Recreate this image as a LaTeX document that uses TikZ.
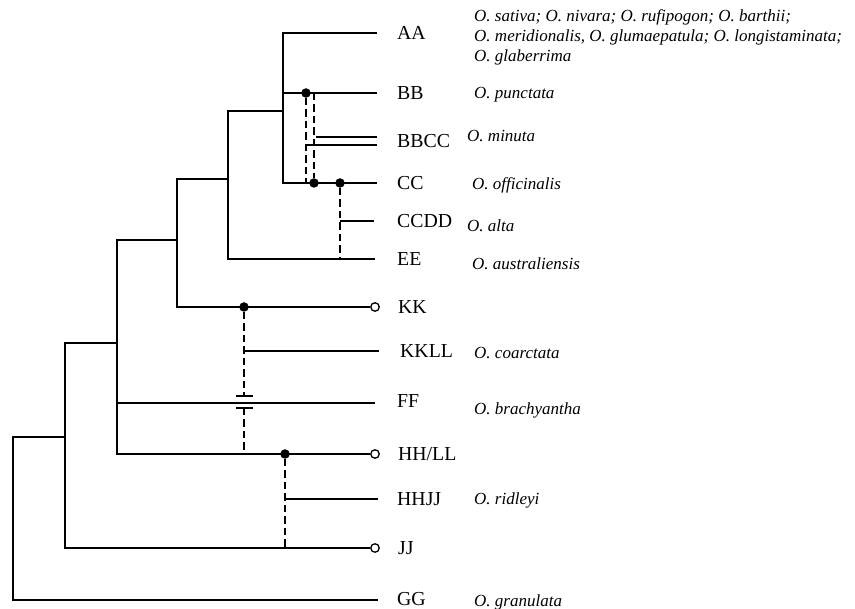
\documentclass[tikz,border=0pt]{standalone}
\usepackage{fontspec}
\setmainfont{Liberation Serif}
\usepackage{tikz}
\usetikzlibrary{positioning}
\tikzset{
    branch/.style={draw=black, line width=1.6pt},
    hybrid/.style={draw=black, line width=1.6pt, dash pattern=on 7.5pt off 4pt},
    taxon/.style={inner sep=0pt, font=\fontsize{19.8}{22}\selectfont, text height=13.2pt, text depth=0pt},
    species/.style={inner sep=0pt, anchor=west, font=\fontsize{17}{19.8}\selectfont\itshape, text height=11.5pt, text depth=0pt},
    parent/.style={circle, fill=black, inner sep=0pt, minimum size=9.5pt},
    lost/.style={circle, draw=black, fill=white, line width=1.3pt, inner sep=0pt, minimum size=8.5pt},
}

\begin{document}
\begin{tikzpicture}[x=1pt, y=-1pt]
	\useasboundingbox (0,0) rectangle (855,609);
	% inner nodes
	\coordinate (root) at (13,437);
	\coordinate (n2) at (65,437);
	\coordinate (n3) at (117,343);
	\coordinate (n4) at (177,240);
	\coordinate (n5) at (228,179);
	\coordinate (n6) at (283,111);
	% tips
	\coordinate (tAA) at (377,33);
	\coordinate (tBB) at (377,93);
	\coordinate (tBBCC) at (377,141);
	\coordinate (tCC) at (377,183);
	\coordinate (tCCDD) at (374,221);
	\coordinate (tEE) at (375,259);
	\node[lost] (tKK) at (375,307) {};
	\coordinate (tKKLL) at (379,351);
	\coordinate (tFF) at (375,403);
	\node[lost] (tHHLL) at (375,454) {};
	\coordinate (tHHJJ) at (378,499);
	\node[lost] (tJJ) at (375,548) {};
	\coordinate (tGG) at (378,600);

	\draw[branch] (n2) -| (root) |- (tGG);
	\draw[branch] (n3) -| (n2) |- (tJJ);
	\draw[branch] (n4) -| (n3) |- (tHHLL);
	\draw[branch, line width=2.2pt] (n3 |- tFF) -- (tFF);
	\draw[branch] (n5) -| (n4) |- (tKK);
	\draw[branch] (n6) -| (n5) |- (tEE);
	\draw[branch] (tAA) -| (n6) |- (tCC);
	\draw[branch] (n6 |- tBB) -- (tBB);

	% hybrid origins
	\node[parent] (pBB) at (306,93) {};
	\node[parent] (pCC) at (314,183) {};
	\node[parent] (pCD) at (340,183) {};
	\node[parent] (pKK) at (244,307) {};
	\node[parent] (pHH) at (285,454) {};
	\coordinate (bBB) at (314,93);
	\coordinate (bCC) at (306,183);
	\draw[hybrid] (pBB) -- (bCC);
	\draw[hybrid] (bBB) -- (pCC);
	\draw[branch] (316,137) -- (tBBCC |- 0,137);
	\draw[branch] (306,145) -- (tBBCC |- 0,145);
	\draw[hybrid] (pCD) -- (pCD |- tEE);
	\draw[branch] (pCD |- tCCDD) -- (tCCDD);
	\coordinate (gapA) at (244,396);
	\coordinate (gapB) at (244,408);
	\draw[hybrid] (pKK) -- (gapA);
	\draw[hybrid] (gapB) -- (gapB |- tHHLL);
	\draw[branch, line width=1.3pt] ([xshift=-8pt]gapA) -- ([xshift=9pt]gapA);
	\draw[branch, line width=1.3pt] ([xshift=-8pt]gapB) -- ([xshift=9pt]gapB);
	\draw[branch] (pKK |- tKKLL) -- (tKKLL);
	\draw[hybrid] (pHH) -- (pHH |- tJJ);
	\draw[branch] ([xshift=1pt]pHH |- tHHJJ) -- (tHHJJ);

	% genome labels
	\node[taxon, right=20pt of tAA] (AA) {AA};
	\node[taxon, right=20pt of tBB] (BB) {BB};
	\node[taxon, right=20pt of tBBCC] (BBCC) {BBCC};
	\node[taxon, right=20pt of tCC] (CC) {CC};
	\node[taxon, right=23pt of tCCDD] (CCDD) {CCDD};
	\node[taxon, right=22pt of tEE] (EE) {EE};
	\node[taxon, right=18pt of tKK] (KK) {KK};
	\node[taxon, right=21pt of tKKLL] (KKLL) {KKLL};
	\node[taxon, right=22pt of tFF, yshift=2pt] (FF) {FF};
	\node[taxon, right=18pt of tHHLL] (HHLL) {HH/LL};
	\node[taxon, right=19pt of tHHJJ] (HHJJ) {HHJJ};
	\node[taxon, right=18pt of tJJ] (JJ) {JJ};
	\node[taxon, right=19pt of tGG, yshift=1.5pt] (GG) {GG};

	% species
	\node[species, anchor=north west, align=left, text height=] (sAA) at (474,9.5)
		{O. sativa; O. nivara; O. rufipogon; O. barthii;\\
		 O. meridionalis, O. glumaepatula; O. longistaminata;\\
		 O. glaberrima};
	\node[species] (sBB) at (474,93) {O. punctata};
	\node[species] (sBBCC) at (467,136) {O. minuta};
	\node[species] (sCC) at (472,184) {O. officinalis};
	\node[species] (sCCDD) at (467,226) {O. alta};
	\node[species] (sEE) at (472,264) {O. australiensis};
	\node[species] (sKKLL) at (474,353) {O. coarctata};
	\node[species] (sFF) at (474,409) {O. brachyantha};
	\node[species] (sHHJJ) at (474,499) {O. ridleyi};
	\node[species] (sGG) at (474,601) {O. granulata};
\end{tikzpicture}
\end{document}
